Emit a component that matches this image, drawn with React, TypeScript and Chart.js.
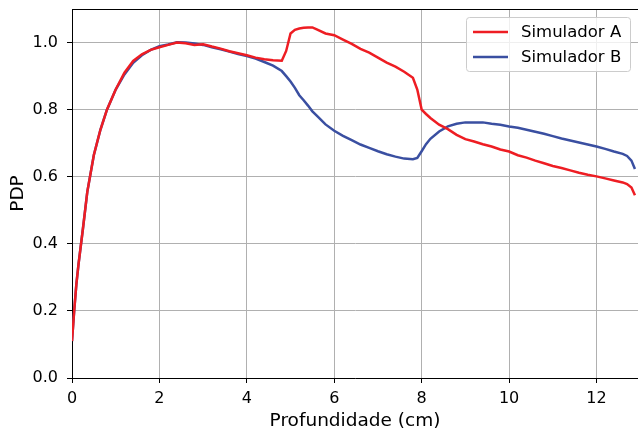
import React, { useEffect, useRef } from "react";
import { Chart, registerables } from "chart.js";

Chart.register(...registerables);

const depth = [
  0, 0.05, 0.1, 0.15, 0.25, 0.35, 0.5, 0.65, 0.8, 1.0, 1.2, 1.4, 1.6, 1.8, 2.0, 2.2, 2.4, 2.6, 2.8,
  3.0, 3.2, 3.4, 3.6, 3.8, 4.0, 4.2, 4.4, 4.6, 4.8, 4.9, 5.0, 5.1, 5.2, 5.3, 5.4, 5.5, 5.6, 5.8,
  6.0, 6.2, 6.4, 6.6, 6.8, 7.0, 7.2, 7.4, 7.6, 7.8, 7.9, 8.0, 8.1, 8.2, 8.4, 8.6, 8.8, 9.0, 9.2,
  9.4, 9.6, 9.8, 10.0, 10.2, 10.4, 10.6, 10.8, 11.0, 11.2, 11.4, 11.6, 11.8, 12.0, 12.2, 12.4,
  12.6, 12.7, 12.8, 12.88,
];

const simA = [
  0.11, 0.2, 0.28, 0.34, 0.445, 0.555, 0.665, 0.74, 0.8, 0.86, 0.91, 0.945, 0.965, 0.978, 0.986,
  0.993, 1.0, 0.998, 0.993, 0.995, 0.988, 0.982, 0.974, 0.968, 0.962, 0.955, 0.95, 0.947, 0.946,
  0.975, 1.027, 1.038, 1.042, 1.044, 1.045, 1.045, 1.039, 1.027, 1.022, 1.009, 0.996, 0.981, 0.97,
  0.955, 0.94, 0.928, 0.913, 0.895, 0.86, 0.8, 0.787, 0.775, 0.755, 0.742, 0.725, 0.712, 0.705,
  0.697, 0.69, 0.681, 0.675, 0.664, 0.657, 0.648, 0.64, 0.632, 0.626, 0.619, 0.612, 0.606, 0.601,
  0.595, 0.589, 0.583, 0.578, 0.568, 0.545,
];

const simB = [
  0.11, 0.2, 0.28, 0.34, 0.445, 0.555, 0.665, 0.74, 0.8, 0.86, 0.905, 0.94, 0.962, 0.978, 0.989,
  0.994, 1.001, 1.0, 0.997, 0.993, 0.986, 0.98, 0.973, 0.966, 0.96, 0.952, 0.942, 0.931, 0.915,
  0.9, 0.884, 0.865, 0.843, 0.828, 0.812, 0.795, 0.782, 0.756, 0.737, 0.722, 0.709, 0.696, 0.686,
  0.676, 0.667, 0.66, 0.654, 0.652, 0.656, 0.676, 0.697, 0.713, 0.735, 0.75, 0.758, 0.762, 0.762,
  0.762, 0.758, 0.755, 0.75, 0.746, 0.74, 0.734, 0.728, 0.721, 0.714, 0.708, 0.702, 0.696, 0.69,
  0.683, 0.675, 0.668, 0.662, 0.648, 0.623,
];

const seriesLabels = ["Simulador A", "Simulador B"];
const seriesColors = ["#ee1d23", "#3a4fa1"];
const xTitle = "Profundidade (cm)";
const yTitle = "PDP";

const FONT = "'DejaVu Sans', sans-serif";

const frameAndLegend = {
  id: "frameAndLegend",
  afterDraw(chart: any) {
    const { ctx, chartArea } = chart;
    ctx.save();
    // top spine
    ctx.strokeStyle = "#000";
    ctx.lineWidth = 1;
    ctx.beginPath();
    ctx.moveTo(chartArea.left, chartArea.top + 0.5);
    ctx.lineTo(chartArea.right, chartArea.top + 0.5);
    ctx.stroke();

    // legend box
    const bx = 466.5, by = 17.5, bw = 164, bh = 54, r = 3;
    ctx.fillStyle = "rgba(255,255,255,0.8)";
    ctx.strokeStyle = "#cccccc";
    ctx.lineWidth = 1;
    ctx.beginPath();
    ctx.moveTo(bx + r, by);
    ctx.lineTo(bx + bw - r, by);
    ctx.quadraticCurveTo(bx + bw, by, bx + bw, by + r);
    ctx.lineTo(bx + bw, by + bh - r);
    ctx.quadraticCurveTo(bx + bw, by + bh, bx + bw - r, by + bh);
    ctx.lineTo(bx + r, by + bh);
    ctx.quadraticCurveTo(bx, by + bh, bx, by + bh - r);
    ctx.lineTo(bx, by + r);
    ctx.quadraticCurveTo(bx, by, bx + r, by);
    ctx.closePath();
    ctx.fill();
    ctx.stroke();

    chart.data.datasets.forEach((ds: any, i: number) => {
      const yy = 32 + i * 25;
      ctx.strokeStyle = ds.borderColor;
      ctx.lineWidth = 2.5;
      ctx.beginPath();
      ctx.moveTo(473, yy);
      ctx.lineTo(508, yy);
      ctx.stroke();
      ctx.fillStyle = "#000";
      ctx.font = `16.5px ${FONT}`;
      ctx.textBaseline = "middle";
      ctx.textAlign = "left";
      ctx.fillText(ds.label, 521, yy + 1);
    });
    ctx.restore();
  },
};

export default function App() {
  const ref = useRef<HTMLCanvasElement>(null);
  useEffect(() => {
    document.body.style.margin = "0";
    const canvas = ref.current!;
    const chart = new Chart(canvas, {
      type: "line",
      data: {
        datasets: [simA, simB].map((vals, i) => ({
          label: seriesLabels[i],
          data: depth.map((d, j) => ({ x: d, y: vals[j] })),
          borderColor: seriesColors[i],
          backgroundColor: seriesColors[i],
          borderWidth: 2.5,
          pointRadius: 0,
          tension: 0,
          fill: false,
        })),
      },
      options: {
        animation: false,
        responsive: false,
        devicePixelRatio: 1,
        layout: { padding: { top: 9, right: 0, left: 0, bottom: 0 } },
        plugins: { legend: { display: false }, tooltip: { enabled: false } },
        scales: {
          x: {
            type: "linear",
            min: 0,
            max: 12.95,
            afterFit: (s: any) => {
              s.height = 57;
              s.paddingLeft = 0;
              s.paddingRight = 0;
            },
            ticks: {
              stepSize: 2,
              includeBounds: false,
              color: "#000",
              padding: 6,
              maxRotation: 0,
              font: { family: FONT, size: 16 },
              callback: (v: any) => String(v),
            },
            grid: {
              color: "#b0b0b0",
              lineWidth: 1,
              tickLength: 5,
              tickColor: "#000",
              tickWidth: 1,
            },
            border: { color: "#000", width: 1 },
            title: {
              display: true,
              text: xTitle,
              color: "#000",
              font: { family: FONT, size: 18.5 },
              padding: { top: 0, bottom: 3 },
            },
          },
          y: {
            type: "linear",
            min: 0,
            max: 1.1,
            afterFit: (s: any) => {
              s.width = 72;
              s.paddingTop = 0;
              s.paddingBottom = 0;
            },
            ticks: {
              stepSize: 0.2,
              includeBounds: false,
              color: "#000",
              padding: 9,
              font: { family: FONT, size: 16 },
              callback: (v: any) => Number(v).toFixed(1),
            },
            grid: {
              color: "#b0b0b0",
              lineWidth: 1,
              tickLength: 5,
              tickColor: "#000",
              tickWidth: 1,
            },
            border: { color: "#000", width: 1 },
            title: {
              display: true,
              text: yTitle,
              color: "#000",
              font: { family: FONT, size: 18.5 },
              padding: { top: 7, bottom: 0 },
            },
          },
        },
      },
      plugins: [frameAndLegend],
    });
    return () => chart.destroy();
  }, []);
  return (
    <div style={{ width: 638, height: 435 }}>
      <canvas ref={ref} width={638} height={435} style={{ display: "block" }} />
    </div>
  );
}
